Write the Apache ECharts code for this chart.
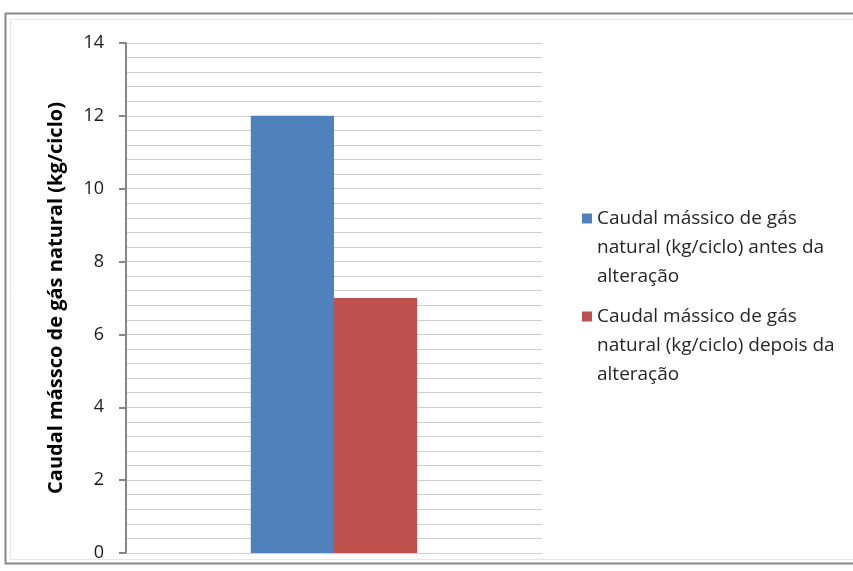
<!DOCTYPE html>
<html>
<head>
<meta charset="utf-8">
<script src="https://cdn.jsdelivr.net/npm/echarts@6/dist/echarts.min.js"></script>
<style>
  html, body { margin: 0; padding: 0; background: #ffffff; }
  #chart { width: 853px; height: 571px; }
</style>
</head>
<body>
<div id="chart"></div>
<script>
// Natural gas mass flow per cycle, before and after the modification
const categories = [''];
const seriesNames = [
  'Caudal mássico de gás natural (kg/ciclo) antes da alteração',
  'Caudal mássico de gás natural (kg/ciclo) depois da alteração'
];
const legendLines = [
  'Caudal mássico de gás\nnatural (kg/ciclo) antes da\nalteração',
  'Caudal mássico de gás\nnatural (kg/ciclo) depois da\nalteração'
];
const beforeValues = [12];
const afterValues = [7];
const yAxisTitle = 'Caudal mássco de gás natural (kg/ciclo)';
const colors = ['#4f81bd', '#c0504d'];

const fontFamily = '"Open Sans", "Noto Sans", sans-serif';

// Legend marker: a 10px square near the top of a tall, otherwise empty box,
// so it lines up with the first line of the wrapped legend text.
const markerPath = 'path://M0,0h10v0.01h-10z M0,9.5h10v10h-10z M0,86.99h10v0.01h-10z';

const chart = echarts.init(document.getElementById('chart'), null, { renderer: 'canvas' });

chart.setOption({
  animation: false,
  backgroundColor: '#ffffff',
  color: colors,
  graphic: [
    {
      type: 'rect',
      shape: { x: 5.5, y: 13.5, width: 900, height: 550 },
      style: { fill: 'none', stroke: '#8a8a8a', lineWidth: 2 },
      silent: true
    },
    {
      type: 'rect',
      shape: { x: 10.5, y: 19.5, width: 900, height: 540 },
      style: { fill: 'none', stroke: '#e6e6e6', lineWidth: 1 },
      silent: true
    }
  ],
  grid: { left: 126, right: 311, top: 43, bottom: 18, containLabel: false },
  legend: {
    orient: 'vertical',
    left: 577,
    top: 199,
    itemWidth: 10,
    itemHeight: 87,
    itemGap: 11,
    icon: markerPath,
    data: seriesNames,
    formatter: function (name) { return legendLines[seriesNames.indexOf(name)]; },
    textStyle: { fontFamily: fontFamily, fontSize: 19, lineHeight: 29, color: '#262626', padding: [0, 0, 0, 0] },
    itemStyle: { borderWidth: 0 }
  },
  xAxis: {
    type: 'category',
    data: categories,
    axisLine: { show: true, lineStyle: { color: '#d0d0d0', width: 1 } },
    axisTick: { show: false },
    axisLabel: { show: false }
  },
  yAxis: {
    type: 'value',
    min: 0,
    max: 14,
    interval: 2,
    name: yAxisTitle,
    nameLocation: 'middle',
    nameGap: 60,
    nameRotate: 90,
    nameTextStyle: { fontFamily: fontFamily, fontSize: 20, fontWeight: 'bold', color: '#000000' },
    axisLine: { show: true, lineStyle: { color: '#868686', width: 2 } },
    axisTick: { show: true, inside: false, length: 7, lineStyle: { color: '#868686', width: 2 } },
    axisLabel: { fontFamily: fontFamily, fontSize: 18, color: '#1a1a1a', margin: 22 },
    splitLine: { show: true, lineStyle: { color: '#cfcfcf', width: 1 } },
    minorTick: { show: false, splitNumber: 5 },
    minorSplitLine: { show: true, lineStyle: { color: '#cfcfcf', width: 1 } }
  },
  series: [
    {
      name: seriesNames[0],
      type: 'bar',
      data: beforeValues,
      barWidth: '20%',
      barGap: '0%',
      itemStyle: { color: colors[0] }
    },
    {
      name: seriesNames[1],
      type: 'bar',
      data: afterValues,
      barWidth: '20%',
      barGap: '0%',
      itemStyle: { color: colors[1] }
    }
  ]
});
</script>
</body>
</html>
